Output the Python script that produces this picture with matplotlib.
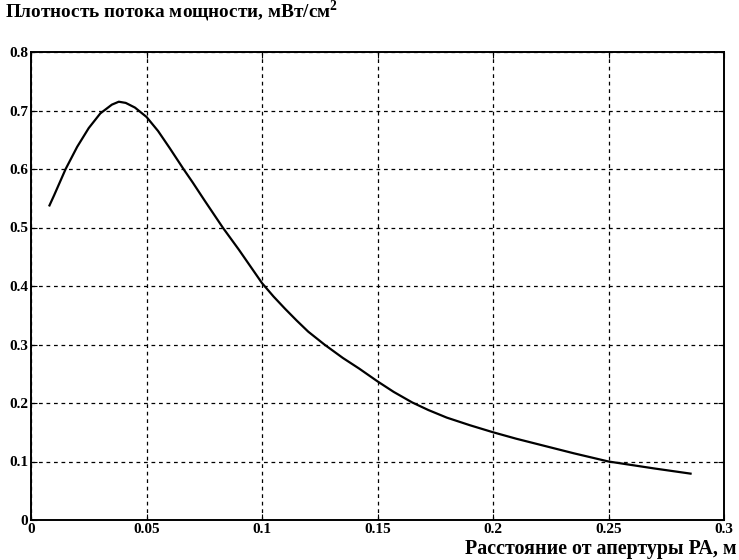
import matplotlib
matplotlib.use("Agg")
import matplotlib.pyplot as plt

# Data
distance_m = [0.0078, 0.010, 0.015, 0.020, 0.025, 0.030, 0.035, 0.038, 0.041, 0.045,
              0.050, 0.055, 0.060, 0.066, 0.070, 0.075, 0.083, 0.090, 0.100, 0.105,
              0.110, 0.115, 0.120, 0.127, 0.135, 0.142, 0.150, 0.157, 0.165, 0.172,
              0.180, 0.190, 0.200, 0.210, 0.220, 0.235, 0.250, 0.260, 0.270, 0.286]
power_density = [0.536, 0.555, 0.600, 0.638, 0.670, 0.695, 0.710, 0.715, 0.713, 0.705,
                 0.689, 0.665, 0.636, 0.600, 0.577, 0.547, 0.500, 0.462, 0.405, 0.382,
                 0.361, 0.341, 0.322, 0.300, 0.277, 0.259, 0.237, 0.219, 0.201, 0.188,
                 0.175, 0.162, 0.150, 0.139, 0.129, 0.114, 0.100, 0.094, 0.088, 0.079]

x_ticks = [0, 0.05, 0.1, 0.15, 0.2, 0.25, 0.3]
x_tick_labels = ["0", "0.05", "0.1", "0.15", "0.2", "0.25", "0.3"]
y_ticks = [0, 0.1, 0.2, 0.3, 0.4, 0.5, 0.6, 0.7, 0.8]
y_tick_labels = ["0", "0.1", "0.2", "0.3", "0.4", "0.5", "0.6", "0.7", "0.8"]

title_text = "Плотность потока мощности, мВт/см$^\\mathbf{2}$"
xlabel_text = "Расстояние от апертуры РА, м"

plt.rcParams['font.family'] = ['Liberation Serif', 'DejaVu Serif']
plt.rcParams['mathtext.fontset'] = 'custom'
plt.rcParams['mathtext.rm'] = 'Liberation Serif'
plt.rcParams['mathtext.bf'] = 'Liberation Serif:bold'

fig = plt.figure(figsize=(7.39, 5.60), dpi=100)
ax = fig.add_axes([31/739, 1 - 520/560, (724 - 31)/739, (520 - 52)/560])

ax.plot(distance_m, power_density, color='black', linewidth=1.6,
        solid_joinstyle='round', solid_capstyle='butt')

ax.set_xlim(0, 0.3)
ax.set_ylim(0, 0.8)
ax.set_xticks(x_ticks)
ax.set_xticklabels(x_tick_labels, fontweight='bold', fontsize=11)
ax.set_yticks(y_ticks)
ax.set_yticklabels(y_tick_labels, fontweight='bold', fontsize=11)
ax.tick_params(direction='in', length=4, width=0.8, top=True, right=True, pad=2)
ax.tick_params(axis='x', pad=2)

ax.grid(True, color='black', linestyle=(0, (3, 3)), linewidth=0.9)
for sp in ax.spines.values():
    sp.set_linewidth(1.4)
    sp.set_color('black')

fig.text(5/739, 1 - 18/560, title_text, fontsize=13.9, fontweight='bold',
         ha='left', va='baseline')
fig.text(737/739, 1 - 554/560, xlabel_text, fontsize=14.4, fontweight='bold',
         ha='right', va='baseline')

fig.savefig("out.png", dpi=100)
